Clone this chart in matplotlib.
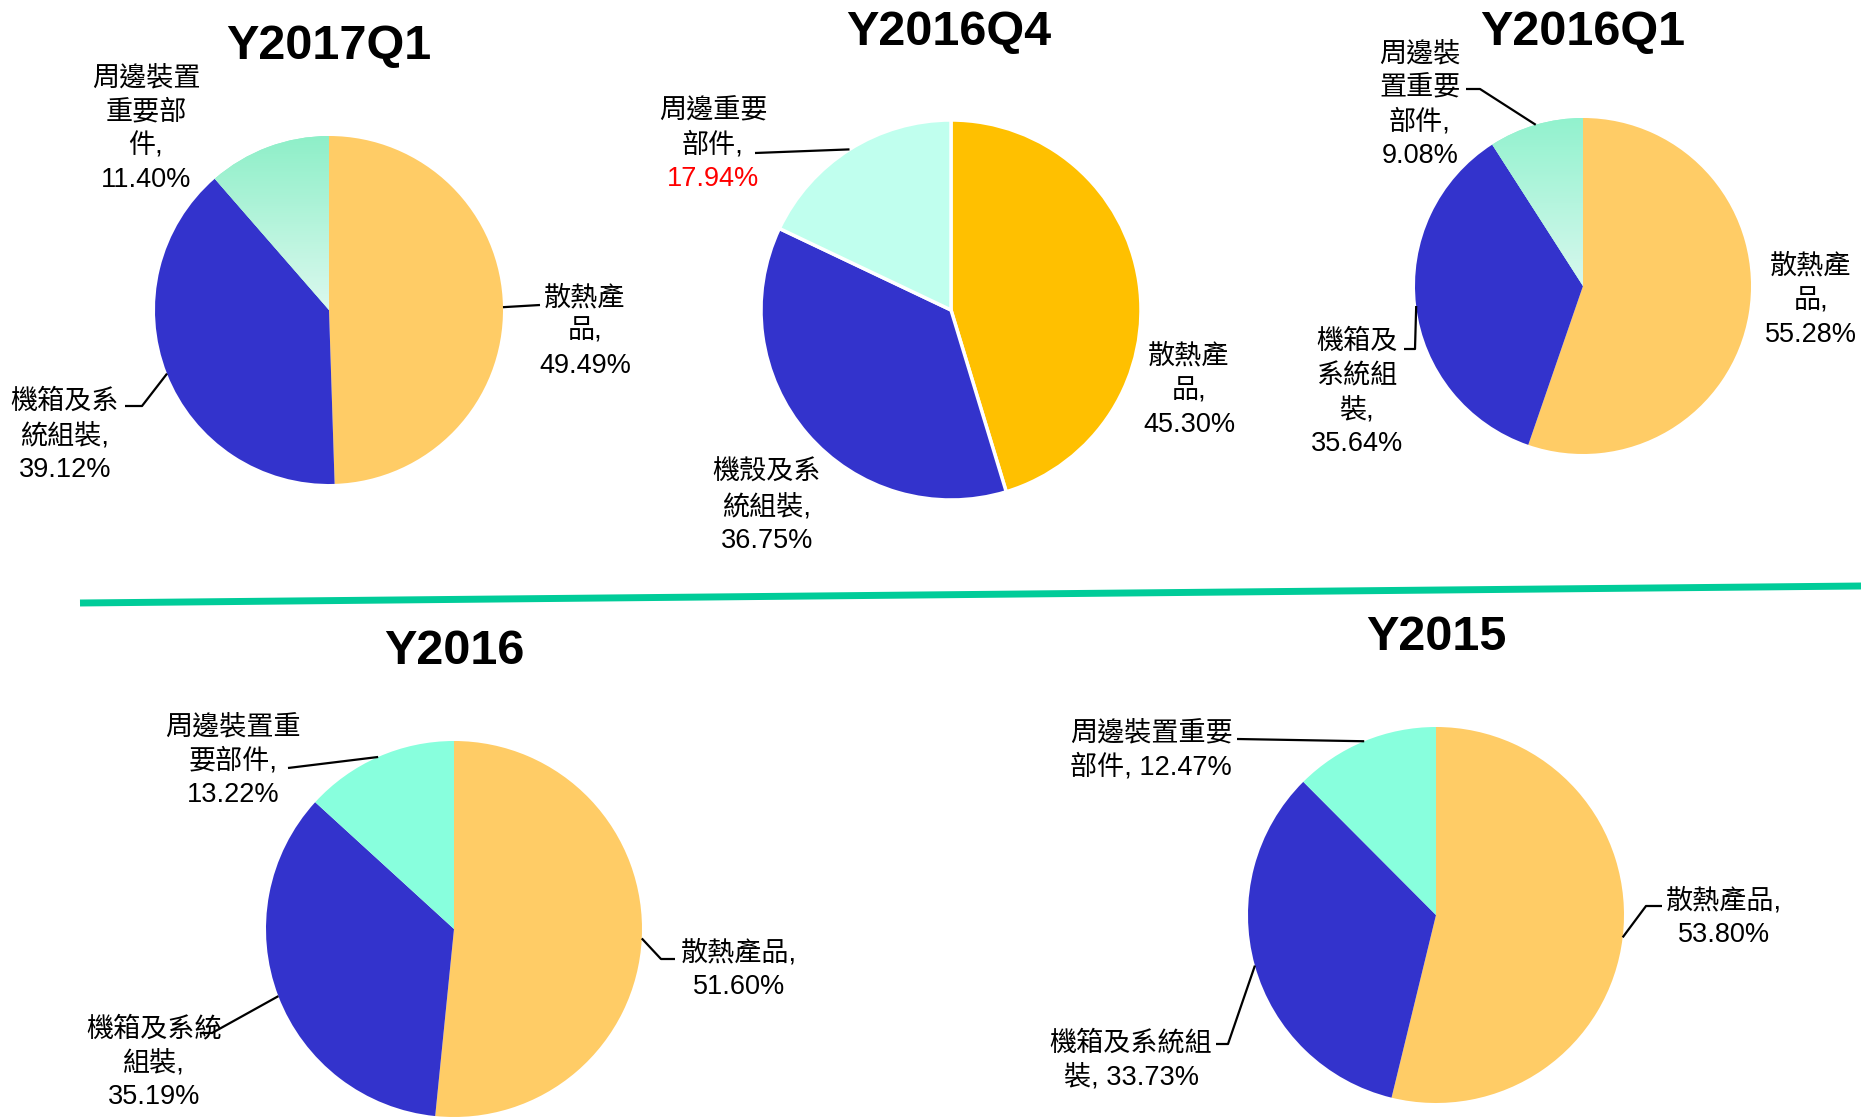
import numpy as np
import matplotlib
matplotlib.use('Agg')
import matplotlib.pyplot as plt

# ---------------- data ----------------
titles = ['Y2017Q1', 'Y2016Q4', 'Y2016Q1', 'Y2016', 'Y2015']
heat = [49.49, 45.30, 55.28, 51.60, 53.80]        # 散熱產品
chassis = [39.12, 36.75, 35.64, 35.19, 33.73]     # 機箱(殼)及系統組裝
periph = [11.40, 17.94, 9.08, 13.22, 12.47]       # 周邊(裝置)重要部件
heat_names = ['散熱產品'] * 5
chassis_names = ['機箱及系統組裝', '機殼及系統組裝', '機箱及系統組裝', '機箱及系統組裝', '機箱及系統組裝']
periph_names = ['周邊裝置重要部件', '周邊重要部件', '周邊裝置重要部件', '周邊裝置重要部件', '周邊裝置重要部件']

# ---------------- layout (pixel coords, y from top) ----------------
W, H = 1861, 1117
centers = [(329, 310), (951, 310), (1583, 286), (454, 929), (1436, 915)]
radii = [174, 190, 168, 188, 188]
title_pos = [(329, 47), (949, 32), (1583, 32), (454, 652), (1436, 637)]

heat_colors = ['#FFCC66', '#FFC000', '#FFCC66', '#FFCC66', '#FFCC66']
blue = '#3333CC'
mint_colors = ['#8FF0CA', '#C0FFEE', '#92F2CE', '#88FFDD', '#88FFDD']
gradient = [('#8EEFC8', '#DCF9EF'), None, ('#92F2CE', '#D8F8EE'), None, None]

# label specs: (name chunk sizes, pct on same line, center x, first line y)
lab_heat = [([3, 1], False, 585, 298), ([3, 1], False, 1189, 357), ([3, 1], False, 1811, 267),
            ([4], False, 739, 953), ([4], False, 1724, 901)]
lab_chassis = [([4, 3], False, 65, 402), ([4, 3], False, 767, 473), ([3, 3, 1], False, 1357, 342),
               ([5, 2], False, 154, 1029), ([6, 1], True, 1131, 1043)]
lab_periph = [([4, 3, 1], False, 146, 78), ([4, 2], False, 713, 111), ([3, 3, 2], False, 1420, 54),
              ([5, 3], False, 233, 727), ([6, 2], True, 1151, 733)]
# leader lines: list of knee points (pixel coords) from pie edge toward label, or None
lead_heat = [[(540, 305)], None, None, [(661, 959), (675, 959)], [(1646, 906), (1662, 906)]]
lead_chassis = [[(142, 406), (125, 406)], None, [(1415, 349), (1404, 349)],
                [(212, 1033), (200, 1033)], [(1228, 1044), (1216, 1044)]]
lead_periph = [None, [(755, 153)], [(1480, 89), (1466, 89)], [(288, 768)], [(1237, 739)]]
pct_red = [[False, False, False], [False, False, True], [False] * 3, [False] * 3, [False] * 3]

FONT = ['Liberation Sans', 'Noto Sans CJK TC', 'DejaVu Sans']
LS = 34

fig = plt.figure(figsize=(W / 100, H / 100), dpi=100)
ax = fig.add_axes([0, 0, 1, 1])


def Y(y):
    return H - y


def label_lines(name, val, chunks, same):
    lines = []
    pos = 0
    for c in chunks:
        lines.append(name[pos:pos + c])
        pos += c
    lines[-1] += ','
    pct = f'{val:.2f}%'
    if same:
        lines[-1] += ' ' + pct
        return lines, False
    lines.append(pct)
    return lines, True


for i in range(5):
    cx, cy = centers[i]
    r = radii[i]
    vals = [heat[i], chassis[i], periph[i]]
    wp = dict(linewidth=0)
    if i == 1:
        wp = dict(linewidth=2.5, edgecolor='white')
    wedges, _ = ax.pie(vals, colors=[heat_colors[i], blue, mint_colors[i]], startangle=90,
                       counterclock=False, center=(cx, Y(cy)), radius=r, wedgeprops=wp)
    if gradient[i] is not None:
        c1 = np.array(matplotlib.colors.to_rgb(gradient[i][0]))
        c2 = np.array(matplotlib.colors.to_rgb(gradient[i][1]))
        t = np.linspace(0, 1, 256)[:, None]
        img = (c1 * (1 - t) + c2 * t)[:, None, :]
        im = ax.imshow(img, extent=[cx - r, cx + 2, Y(cy) - 2, Y(cy) + r], origin='upper',
                       aspect='auto', zorder=wedges[2].get_zorder() + 0.1)
        im.set_clip_path(wedges[2])

    ax.text(title_pos[i][0], Y(title_pos[i][1]), titles[i], ha='center', va='center',
            fontsize=35, fontweight='bold', family=FONT)

    specs = [(heat_names[i], heat[i], lab_heat[i], lead_heat[i], 0),
             (chassis_names[i], chassis[i], lab_chassis[i], lead_chassis[i], 1),
             (periph_names[i], periph[i], lab_periph[i], lead_periph[i], 2)]
    for name, val, lab, lead, k in specs:
        chunks, same, lx, ly = lab
        lines, sep = label_lines(name, val, chunks, same)
        for j, s in enumerate(lines):
            col = 'black'
            if sep and j == len(lines) - 1 and pct_red[i][k]:
                col = '#FF0000'
            ax.text(lx, Y(ly + j * LS), s, ha='center', va='center', fontsize=19.5,
                    family=FONT, color=col)
        if lead is not None:
            w = wedges[k]
            mid = np.deg2rad((w.theta1 + w.theta2) / 2)
            px = [cx + r * np.cos(mid)] + [p[0] for p in lead]
            py = [Y(cy) + r * np.sin(mid)] + [Y(p[1]) for p in lead]
            ax.plot(px, py, color='black', lw=1.6, solid_capstyle='butt')

# green separator line
ax.plot([80, W], [Y(603), Y(586)], color='#00CC99', lw=5, solid_capstyle='butt')

ax.set_xlim(0, W)
ax.set_ylim(0, H)
ax.set_aspect('equal')
ax.axis('off')
fig.savefig('out.png', dpi=100)
